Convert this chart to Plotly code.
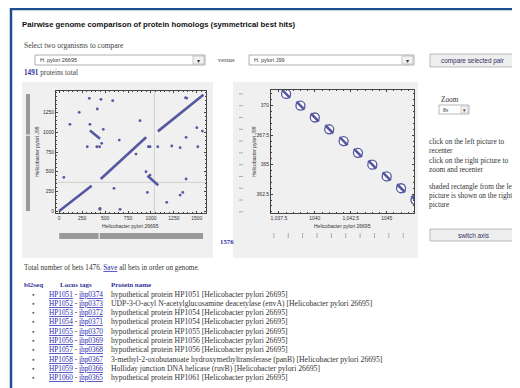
import plotly.graph_objects as go

# page is drawn inside an 8px body margin, so the figure is 512x380 and
# positions are measured from the window's top-left corner (minus 8px)
OFF = 8
W, H = 512, 380

# ---------------- data ----------------
# Left overview dot plot: conserved blocks drawn as line segments (x = 26695 index, y = J99 index)
block1_x = [0, 354]
block1_y = [0, 322]
block2_x = [452, 948]
block2_y = [408, 938]
block3_x = [962, 1080]
block3_y = [447, 329]
block4_x = [1075, 1572]
block4_y = [1012, 1478]
block5_x = [335, 445]
block5_y = [1022, 918]
block6_x = [1365, 1402]
block6_y = [1446, 1428]

scatter_x = [328, 455, 583, 218, 415, 117, 335, 480, 881, 306, 410, 440, 463, 655, 837,
             972, 990, 51, 597, 946, 990, 961, 1172, 444, 444, 663, 1074, 1227, 1318,
             1383, 1383, 1347, 1318, 1500, 1511, 1561]
scatter_y = [1432, 1419, 1402, 1254, 1296, 1101, 1101, 1038, 1148, 817, 817, 817, 860, 902, 724,
             817, 817, 428, 288, 499, 457, 237, 110, 22, 34, 22, 817, 826, 805,
             936, 407, 237, 203, 1059, 817, 1016]

left_xticks = [0, 250, 500, 750, 1000, 1250, 1500]
left_yticks = [0, 250, 500, 750, 1000, 1250]
center_x, center_y = 1037, 365

# Right zoomed plot
zoom_x = [1038, 1039, 1040, 1041, 1042, 1043, 1044, 1045, 1046, 1047]
zoom_y = [371, 370, 369, 368, 367, 366, 365, 364, 363, 362]
right_xticks = [1037.5, 1040, 1042.5, 1045]
right_yticks = [362.5, 365, 367.5, 370]
ruler_x = [1037, 1038, 1039, 1040, 1041, 1042, 1043, 1044, 1045, 1046]
ruler_y = [361, 362, 363, 364, 365, 366, 367, 368, 369, 370, 371]

# Table below
hp_tags = ["HP1051", "HP1052", "HP1053", "HP1054", "HP1055", "HP1056", "HP1057", "HP1058", "HP1059", "HP1060"]
jhp_tags = ["jhp0374", "jhp0373", "jhp0372", "jhp0371", "jhp0370", "jhp0369", "jhp0368", "jhp0367", "jhp0366", "jhp0365"]
protein_names = [
    "hypothetical protein HP1051 [Helicobacter pylori 26695]",
    "UDP-3-O-acyl N-acetylglucosamine deacetylase (envA) [Helicobacter pylori 26695]",
    "hypothetical protein HP1054 [Helicobacter pylori 26695]",
    "hypothetical protein HP1054 [Helicobacter pylori 26695]",
    "hypothetical protein HP1055 [Helicobacter pylori 26695]",
    "hypothetical protein HP1056 [Helicobacter pylori 26695]",
    "hypothetical protein HP1056 [Helicobacter pylori 26695]",
    "3-methyl-2-oxobutanoate hydroxymethyltransferase (panB) [Helicobacter pylori 26695]",
    "Holliday junction DNA helicase (ruvB) [Helicobacter pylori 26695]",
    "hypothetical protein HP1061 [Helicobacter pylori 26695]",
]

# ---------------- helpers ----------------
def px(x):
    return (x - OFF) / W

def py(y):
    return 1 - (y - OFF) / H

DOT = "#5558a0"
LINK = "#1f1fb0"
NAVY = "#333399"
SERIF = "Liberation Serif"
SANS = "Liberation Sans"

fig = go.Figure()

# left plot traces
for bx, by in [(block1_x, block1_y), (block2_x, block2_y), (block3_x, block3_y),
               (block4_x, block4_y), (block5_x, block5_y), (block6_x, block6_y)]:
    fig.add_trace(go.Scatter(x=bx, y=by, mode="lines", line=dict(color=DOT, width=2.6),
                             xaxis="x", yaxis="y", showlegend=False, hoverinfo="skip"))
fig.add_trace(go.Scatter(x=scatter_x, y=scatter_y, mode="markers",
                         marker=dict(color=DOT, size=2.8), xaxis="x", yaxis="y", showlegend=False))

# right plot traces
fig.add_trace(go.Scatter(x=zoom_x, y=zoom_y, mode="markers",
                         marker=dict(symbol="circle", color="white", size=9,
                                     line=dict(color=DOT, width=1.3)),
                         xaxis="x2", yaxis="y2", showlegend=False))
fig.add_trace(go.Scatter(x=zoom_x, y=zoom_y, mode="markers",
                         marker=dict(symbol="line-nw", color=DOT, size=8,
                                     line=dict(color=DOT, width=2.6)),
                         xaxis="x2", yaxis="y2", showlegend=False))

shapes = []
ann = []

def rect(x0, y0, x1, y1, fill, line="rgba(0,0,0,0)", lw=0):
    shapes.append(dict(type="rect", xref="paper", yref="paper", x0=px(x0), x1=px(x1),
                       y0=py(y1), y1=py(y0), fillcolor=fill, line=dict(color=line, width=lw),
                       layer="below"))

def text(x, y, t, size=7, color="#333", family=SERIF, xanchor="left", angle=0):
    ann.append(dict(x=px(x), y=py(y), xref="paper", yref="paper", text=t, showarrow=False,
                    xanchor=xanchor, yanchor="middle", textangle=angle,
                    font=dict(size=size, color=color, family=family)))

# page border
shapes.append(dict(type="line", xref="paper", yref="paper", x0=px(10), x1=1, y0=py(9), y1=py(9),
                   line=dict(color="#1f4f8f", width=2.5)))
shapes.append(dict(type="line", xref="paper", yref="paper", x0=px(11), x1=px(11), y0=py(8), y1=0,
                   line=dict(color="#1f4f8f", width=2.5)))

# title and selectors
text(20, 24, "<b>Pairwise genome comparison of protein homologs (symmetrical best hits)</b>", 7.75, "#111", SANS)
text(22, 46, "Select two organisms to compare", 7.5, "#444")
rect(35, 55, 205, 65, "white", "#999", 0.8)
rect(193, 56, 204, 64, "#f2f2f2", "#aaa", 0.6)
text(198.5, 60.5, "▾", 6, "#333", SANS, "center")
text(38, 60, "H. pylori 26695", 5.5, "#333", SANS)
text(216, 60, "versus", 6.5, "#444")
rect(249, 55, 414, 65, "white", "#999", 0.8)
rect(402, 56, 413, 64, "#f2f2f2", "#aaa", 0.6)
text(407.5, 60.5, "▾", 6, "#333", SANS, "center")
text(252, 60, "H. pylori J99", 5.5, "#333", SANS)
rect(430, 54, 516, 67, "#eeeeee", "#aaa", 0.8)
text(473, 60.5, "compare selected pair", 6.4, "#333366", SANS, "center")
text(22, 73, "<b><span style='color:%s'>1491</span></b> proteins total" % NAVY, 7.2, "#444")

# panels
rect(22, 82, 213, 258, "#f0f0f0")
rect(233, 82, 418, 258, "#f0f0f0")

# left overview bars
shapes.append(dict(type="rect", xref="x", yref="paper", x0=0, x1=1568, y0=py(239), y1=py(233),
                   fillcolor="#999", line=dict(width=0), layer="below"))
shapes.append(dict(type="line", xref="x", yref="paper", x0=435, x1=435, y0=py(239), y1=py(233),
                   line=dict(color="#f0f0f0", width=1.2)))
shapes.append(dict(type="rect", xref="paper", yref="y", x0=px(26), x1=px(30), y0=0, y1=1487,
                   fillcolor="#999", line=dict(width=0), layer="below"))
shapes.append(dict(type="line", xref="paper", yref="y", x0=px(26), x1=px(30), y0=965, y1=965,
                   line=dict(color="#f0f0f0", width=1.2)))
text(218, 241.5, "<b>1576</b>", 6.8, NAVY)

# crosshair on the left plot
shapes.append(dict(type="line", xref="x", yref="y", x0=center_x, x1=center_x, y0=-25, y1=1525,
                   line=dict(color="#d0d0d0", width=1), layer="below"))
shapes.append(dict(type="line", xref="x", yref="y", x0=-35, x1=1600, y0=center_y, y1=center_y,
                   line=dict(color="#d0d0d0", width=1), layer="below"))

# rulers on right panel
for v in ruler_y:
    shapes.append(dict(type="line", xref="paper", yref="y2", x0=px(239), x1=px(243), y0=v, y1=v,
                       line=dict(color="#999", width=0.8)))
for v in ruler_x:
    shapes.append(dict(type="line", xref="x2", yref="paper", x0=v + 0.15, x1=v + 0.15, y0=py(238), y1=py(233),
                       line=dict(color="#999", width=0.8)))

# axis titles
text(130, 226, "Helicobacter pylori 26695", 5, "#333", SANS, "center")
text(37, 152, "Helicobacter pylori J99", 5, "#333", SANS, "center", -90)
text(342, 226, "Helicobacter pylori 26695", 5, "#333", SANS, "center")
text(254, 152, "Helicobacter pylori J99", 5, "#333", SANS, "center", -90)

# right side controls
text(439, 100, "Zoom", 7.3, "#333")
rect(439, 105, 469, 114, "white", "#999", 0.7)
rect(461, 106, 468, 113, "#f2f2f2", "#aaa", 0.5)
text(464.5, 109.5, "▾", 5, "#333", SANS, "center")
text(441, 109.5, "8x", 5, "#333", SANS)
help_lines = ["click on the left picture to", "recenter", "click on the right picture to",
              "zoom and recenter", "shaded rectangle from the left", "picture is shown on the right",
              "picture"]
help_y = [141.5, 150.5, 160, 169, 186, 195, 204]
for t, yy in zip(help_lines, help_y):
    text(427, yy, t, 7.3, "#333")
rect(430, 229, 517, 241, "#eeeeee", "#aaa", 0.8)
text(473.5, 235, "switch axis", 6.4, "#333366", SANS, "center")

# bottom text
text(22, 268, "Total number of bets 1476. <span style='color:%s;text-decoration:underline'>Save</span> all bets in order on genome." % LINK, 7.2, "#333")
text(22, 285, "<b>bl2seq</b>", 7, NAVY)
text(58, 285, "<b>Locus tags</b>", 7, NAVY)
text(109, 285, "<b>Protein name</b>", 7, NAVY)
for i, (hp, jhp, name) in enumerate(zip(hp_tags, jhp_tags, protein_names)):
    yy = 294 + i * 9.3
    text(33, yy, "●", 4.5, "#555577", SANS, "center")
    text(47, yy, "<span style='text-decoration:underline;color:%s'>%s</span> - "
                 "<span style='text-decoration:underline;color:%s'>%s</span>" % (LINK, hp, LINK, jhp),
         7.3, "#333")
    text(109, yy, name, 7.7, "#333")

axis_common = dict(showgrid=False, zeroline=False, showline=True, linecolor="#444", linewidth=0.8,
                   mirror="allticks", ticks="inside", ticklen=2, tickcolor="#444", tickwidth=0.6,
                   tickfont=dict(size=5, family=SANS, color="#333"))

fig.update_layout(
    width=W, height=H, margin=dict(l=0, r=0, t=0, b=0),
    paper_bgcolor="white", plot_bgcolor="white", showlegend=False,
    xaxis=dict(domain=[px(56), px(206)], range=[-35, 1600], tickvals=left_xticks,
               minor=dict(ticks="inside", ticklen=1.2, dtick=50, tickcolor="#444"),
               anchor="y", **axis_common),
    yaxis=dict(domain=[py(213), py(91)], range=[-25, 1525], tickvals=left_yticks,
               minor=dict(ticks="inside", ticklen=1.2, dtick=50, tickcolor="#444"),
               anchor="x", **axis_common),
    xaxis2=dict(domain=[px(271), px(414)], range=[1036.95, 1046.9], tickvals=right_xticks,
                minor=dict(ticks="inside", ticklen=1.2, dtick=0.5, tickcolor="#444"),
                anchor="y2", **axis_common),
    yaxis2=dict(domain=[py(213), py(90)], range=[360.9, 371.33], tickvals=right_yticks,
                minor=dict(ticks="inside", ticklen=1.2, dtick=0.5, tickcolor="#444"),
                anchor="x2", **axis_common),
    shapes=shapes, annotations=ann,
)

fig.write_html("out.html")
